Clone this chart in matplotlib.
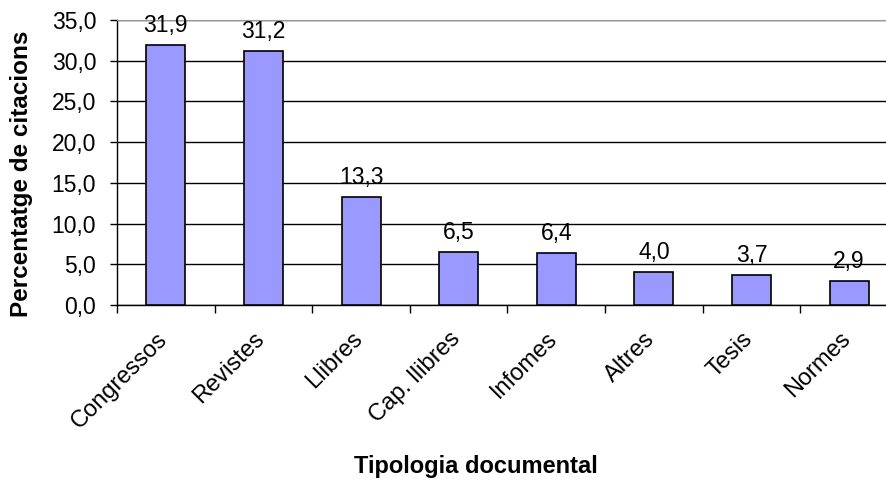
import numpy as np
import matplotlib
matplotlib.use('Agg')
import matplotlib.pyplot as plt

# data
categories = ['Congressos', 'Revistes', 'Llibres', 'Cap. llibres', 'Infomes', 'Altres', 'Tesis', 'Normes']
values = [31.9, 31.2, 13.3, 6.5, 6.4, 4.0, 3.7, 2.9]
y_ticks = [0, 5, 10, 15, 20, 25, 30, 35]

plt.rcParams['font.family'] = ['Liberation Sans', 'DejaVu Sans']

W, H = 887, 483
fig = plt.figure(figsize=(W / 100, H / 100), dpi=100)
# axes run a bit past the right edge, like the cropped original
ax = fig.add_axes([117 / W, (H - 305) / H, (898 - 117) / W, (305 - 20) / H])

x = np.arange(len(categories))
bars = ax.bar(x, values, width=0.4, color='#9999ff', edgecolor='black', linewidth=1.2, zorder=3)

ax.set_xlim(-0.5, len(categories) - 0.5)
ax.set_ylim(0, 35)
ax.set_yticks(y_ticks)
ax.set_yticklabels([f'{v:.1f}'.replace('.', ',') for v in y_ticks], fontsize=16.5)
ax.yaxis.grid(True, color='black', linewidth=1.0, zorder=0)
ax.set_axisbelow(True)

# x ticks sit on the category boundaries, labels at the centres
ax.set_xticks(np.arange(len(categories) + 1) - 0.5)
ax.set_xticklabels([])
ax.tick_params(axis='x', length=6, width=1, direction='out', color='black')
ax.tick_params(axis='y', length=5, width=1, direction='out', pad=10)

for i, cat in enumerate(categories):
    ax.annotate(cat, xy=(i, 0), xycoords=('data', 'axes fraction'),
                xytext=(-10, -23), textcoords='offset pixels', rotation=45,
                ha='right', va='top', rotation_mode='anchor', fontsize=17)

ax.spines['right'].set_visible(False)
ax.spines['top'].set_color('#999999')
ax.spines['left'].set_linewidth(1.0)
ax.spines['bottom'].set_linewidth(1.0)

for b, v in zip(bars, values):
    ax.annotate(f'{v:.1f}'.replace('.', ','), (b.get_x() + b.get_width() / 2, v),
                xytext=(0, 8), textcoords='offset pixels', ha='center', va='bottom',
                fontsize=16.5)

fig.text(22 / W, 1 - 174 / H, 'Percentatge de citacions', rotation=90, ha='center', va='center',
         fontsize=17.5, fontweight='bold')
fig.text(476 / W, 1 - 467 / H, 'Tipologia documental', ha='center', va='center',
         fontsize=17, fontweight='bold')

fig.savefig('out.png', dpi=100)
